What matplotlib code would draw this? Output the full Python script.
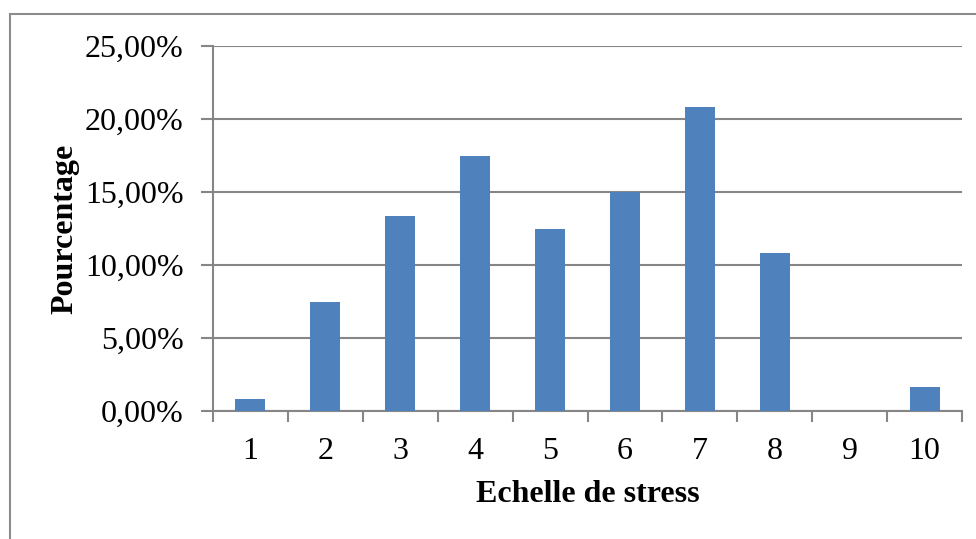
import matplotlib.pyplot as plt
from matplotlib.patches import Rectangle
from matplotlib.ticker import FuncFormatter, MultipleLocator

categories = ['1', '2', '3', '4', '5', '6', '7', '8', '9', '10']
percentages = [0.83, 7.50, 13.33, 17.50, 12.50, 15.00, 20.83, 10.83, 0.00, 1.67]

plt.rcParams['font.family'] = ['Liberation Serif', 'DejaVu Serif']

W, H = 976, 539
fig = plt.figure(figsize=(W / 100, H / 100), dpi=100)

# outer chart frame (cut on right and bottom like the screenshot)
fig.patches.append(Rectangle((10 / W, -0.05), 1.1, 1 - 14 / H + 0.05,
                             transform=fig.transFigure, fill=False,
                             edgecolor='#8c8c8c', linewidth=1.5))

left, right, top, bottom = 213, 962, 46, 411
ax = fig.add_axes([left / W, 1 - bottom / H, (right - left) / W, (bottom - top) / H])

x = list(range(len(categories)))
ax.bar(x, percentages, width=0.4, color='#4F81BD', zorder=3)

ax.set_xlim(-0.5, len(categories) - 0.5)
ax.set_ylim(0, 25)
ax.yaxis.set_major_locator(MultipleLocator(5))
ax.yaxis.set_major_formatter(FuncFormatter(lambda v, p: f'{v:.2f}'.replace('.', ',') + '%'))
ax.grid(axis='y', color='#868686', linewidth=1.5, zorder=0)

ax.set_xticks([i - 0.5 for i in range(len(categories) + 1)])
ax.set_xticklabels([])
ax.set_xticks(x, minor=True)
ax.set_xticklabels(categories, minor=True)
ax.tick_params(axis='x', which='minor', length=0, labelsize=23, pad=19)
ax.tick_params(axis='x', which='major', length=8, width=1.5, color='#868686')
ax.tick_params(axis='y', length=9, width=1.5, color='#868686', labelsize=23, pad=12)

for side in ['top', 'right']:
    ax.spines[side].set_visible(False)
for side in ['left', 'bottom']:
    ax.spines[side].set_color('#868686')
    ax.spines[side].set_linewidth(1.5)

ax.set_xlabel('Echelle de stress', fontsize=23, fontweight='bold', labelpad=10)
ax.set_ylabel('Pourcentage', fontsize=23, fontweight='bold', labelpad=4)

fig.savefig('out.png', dpi=100)
